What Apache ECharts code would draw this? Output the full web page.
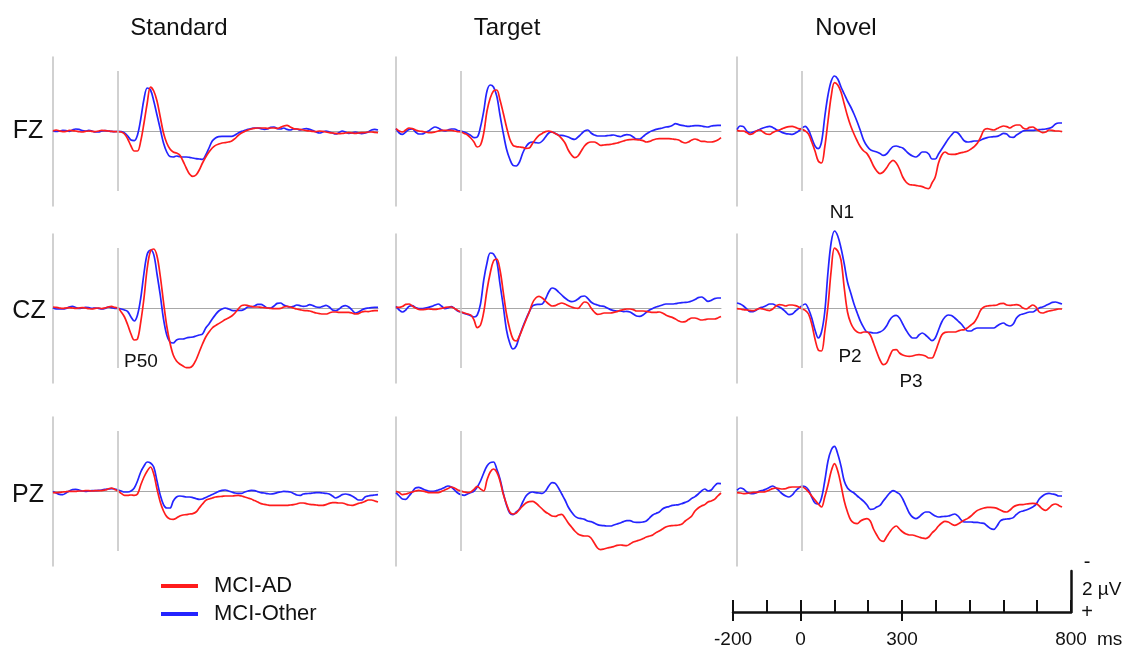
<!DOCTYPE html>
<html>
<head>
<meta charset="utf-8">
<script src="https://cdn.jsdelivr.net/npm/echarts@6/dist/echarts.min.js"></script>
<style>
  html, body { margin: 0; background: #fff; }
  #chart { width: 1133px; height: 649px; }
</style>
</head>
<body>
<div id="chart"></div>
<script>
// sampling grid: -200 .. 800 ms every 10 ms
const times = []
for (let t = -200; t <= 800; t += 10) times.push(t)

const conditions = ['Standard', 'Target', 'Novel']
const electrodes = ['FZ', 'CZ', 'PZ']
const groups = ['MCI-AD', 'MCI-Other']
const scaleTicks = [-200, 0, 300, 800]

// amplitudes in µV (negative plotted up), rows of 10 samples from -200 ms
const fzStdAD = [
  0.0, -0.05, 0.0, 0.03, 0.02, -0.03, -0.02, 0.0, 0.03, 0.05,
  0.02, 0.0, 0.02, 0.03, 0.0, -0.03, -0.02, 0.0, 0.02, 0.03,
  0.03, 0.05, 0.15, 0.4, 0.75, 1.0, 1.0, 0.5, -0.4, -1.4,
  -2.2, -2.0, -1.5, -0.7, 0.1, 0.6, 0.9, 1.05, 1.1, 1.2,
  1.5, 1.85, 2.15, 2.27, 2.2, 1.95, 1.6, 1.3, 1.05, 0.85,
  0.72, 0.65, 0.6, 0.58, 0.55, 0.5, 0.38, 0.22, 0.1, 0.02,
  -0.05, -0.1, -0.13, -0.15, -0.15, -0.15, -0.13, -0.15, -0.15, -0.13,
  -0.18, -0.25, -0.28, -0.2, -0.12, -0.1, -0.08, -0.05, -0.02, 0.0,
  0.02, 0.03, 0.0, 0.02, 0.05, 0.08, 0.1, 0.12, 0.13, 0.12,
  0.1, 0.08, 0.1, 0.12, 0.1, 0.08, 0.08, 0.05, 0.05, 0.07,
  0.08
]
const fzStdOther = [
  -0.02, 0.02, 0.0, -0.03, -0.02, 0.02, -0.05, -0.1, -0.08, -0.02,
  0.0, -0.03, 0.0, 0.05, 0.05, 0.0, -0.02, 0.0, 0.02, 0.03,
  0.02, 0.03, 0.1, 0.25, 0.45, 0.48, 0.2, -0.6, -1.6, -2.15,
  -2.05, -1.5, -0.8, -0.1, 0.6, 1.05, 1.28, 1.3, 1.25, 1.28,
  1.3, 1.3, 1.32, 1.35, 1.38, 1.4, 1.42, 1.2, 0.85, 0.5,
  0.35, 0.28, 0.27, 0.27, 0.27, 0.27, 0.2, 0.1, 0.02, -0.03,
  -0.08, -0.12, -0.15, -0.15, -0.12, -0.08, -0.1, -0.18, -0.2, -0.12,
  -0.1, -0.15, -0.08, -0.05, -0.1, -0.1, -0.05, -0.1, -0.12, -0.08,
  -0.02, 0.05, 0.1, 0.05, 0.0, 0.05, 0.1, 0.15, 0.08, 0.0,
  0.05, 0.12, 0.1, 0.05, 0.1, 0.13, 0.1, 0.05, -0.05, -0.08,
  -0.05
]
const fzTgtAD = [
  -0.12, 0.0, 0.05, -0.05, -0.15, -0.12, -0.05, 0.0, 0.02, 0.05,
  0.08, 0.08, 0.05, 0.0, -0.03, -0.03, -0.03, -0.03, 0.0, 0.03,
  0.05, 0.12, 0.2, 0.35, 0.55, 0.8, 0.7, 0.1, -1.0, -1.65,
  -2.0, -2.05, -1.55, -0.9, -0.2, 0.4, 0.72, 0.78, 0.8, 0.82,
  0.87, 0.85, 0.62, 0.4, 0.22, 0.12, 0.03, 0.0, 0.05, 0.12,
  0.22, 0.38, 0.6, 0.95, 1.2, 1.33, 1.25, 1.0, 0.75, 0.6,
  0.55, 0.55, 0.62, 0.72, 0.7, 0.68, 0.67, 0.63, 0.6, 0.55,
  0.5, 0.45, 0.43, 0.42, 0.43, 0.45, 0.48, 0.55, 0.52, 0.45,
  0.4, 0.38, 0.38, 0.38, 0.38, 0.4, 0.42, 0.45, 0.55, 0.6,
  0.55, 0.45, 0.4, 0.45, 0.52, 0.52, 0.55, 0.55, 0.52, 0.45,
  0.33
]
const fzTgtOther = [
  -0.12, 0.1, 0.17, 0.05, -0.08, -0.1, 0.05, 0.15, 0.15, 0.08,
  0.0, -0.12, -0.2, -0.15, -0.05, 0.0, -0.05, -0.1, -0.1, -0.02,
  0.0, 0.05, 0.12, 0.22, 0.33, 0.3, -0.2, -1.0, -2.0, -2.3,
  -2.2, -1.75, -0.8, 0.1, 0.9, 1.4, 1.72, 1.75, 1.55, 1.1,
  0.78, 0.6, 0.55, 0.58, 0.6, 0.5, 0.3, 0.1, 0.05, 0.12,
  0.2, 0.22, 0.25, 0.3, 0.38, 0.42, 0.3, 0.15, 0.0, -0.05,
  0.1, 0.2, 0.25, 0.25, 0.25, 0.23, 0.22, 0.2, 0.25, 0.28,
  0.22, 0.18, 0.2, 0.3, 0.4, 0.4, 0.28, 0.15, 0.05, -0.02,
  -0.08, -0.12, -0.15, -0.2, -0.22, -0.28, -0.37, -0.32, -0.28, -0.25,
  -0.23, -0.25, -0.27, -0.27, -0.25, -0.22, -0.2, -0.25, -0.27, -0.28,
  -0.28
]
const fzNovAD = [
  -0.03, 0.0, 0.0, 0.08, 0.17, 0.12, 0.0, -0.05, 0.05, 0.15,
  0.17, 0.08, 0.0, -0.05, -0.12, -0.18, -0.22, -0.23, -0.18, -0.12,
  -0.08, 0.0, 0.15, 0.55, 1.0, 1.5, 1.6, 0.8, -0.5, -1.75,
  -2.42, -2.3, -1.95, -1.35, -0.75, -0.25, 0.15, 0.5, 0.8, 1.0,
  1.13, 1.4, 1.75, 2.0, 2.13, 2.05, 1.85, 1.6, 1.47, 1.6,
  1.9, 2.3, 2.55, 2.67, 2.7, 2.72, 2.75, 2.78, 2.85, 2.88,
  2.6, 2.3, 1.6, 1.2, 1.05, 1.15, 1.17, 1.17, 1.13, 1.08,
  1.05, 1.0, 0.9, 0.78, 0.6, 0.3, -0.05, -0.12, -0.08, -0.05,
  -0.12, -0.2, -0.25, -0.22, -0.15, -0.25, -0.3, -0.3, -0.15, -0.1,
  -0.18, -0.2, -0.1, 0.0, 0.08, 0.05, -0.05, -0.03, 0.0, 0.0,
  0.03
]
const fzNovOther = [
  -0.07, -0.25, -0.22, 0.0, 0.1, 0.05, 0.0, -0.08, -0.15, -0.2,
  -0.23, -0.18, -0.08, 0.0, 0.08, 0.13, 0.15, 0.17, 0.1, 0.0,
  -0.15, -0.23, -0.05, 0.35, 0.75, 0.88, 0.55, -0.7, -1.8, -2.5,
  -2.75, -2.6, -2.2, -1.85, -1.5, -1.2, -0.85, -0.45, 0.0, 0.47,
  0.75, 0.93, 1.0, 1.05, 1.12, 1.22, 1.15, 0.95, 0.78, 0.75,
  0.8, 0.85, 1.0, 1.15, 1.25, 1.3, 1.2, 1.05, 1.05, 1.15,
  1.4, 1.4, 1.15, 0.9, 0.65, 0.4, 0.2, 0.05, 0.1, 0.3,
  0.5, 0.55, 0.53, 0.5, 0.5, 0.45, 0.38, 0.33, 0.3, 0.28,
  0.27, 0.2, 0.12, 0.15, 0.3, 0.32, 0.2, 0.1, 0.0, -0.03,
  -0.03, -0.03, -0.05, -0.07, -0.08, -0.1, -0.13, -0.2, -0.35, -0.4,
  -0.4
]
const czStdAD = [
  -0.05, -0.03, 0.0, 0.02, 0.0, -0.02, 0.0, 0.02, 0.0, -0.02,
  0.0, 0.03, 0.05, 0.02, 0.0, 0.03, 0.0, -0.05, -0.08, -0.03,
  0.0, 0.2, 0.45, 0.85, 1.3, 1.6, 1.55, 0.7, -0.5, -2.0,
  -2.85, -2.95, -2.6, -1.6, -0.3, 0.9, 1.75, 2.35, 2.65, 2.8,
  2.9, 2.98, 2.98, 2.88, 2.6, 2.2, 1.8, 1.45, 1.2, 1.0,
  0.88, 0.78, 0.68, 0.58, 0.5, 0.4, 0.25, 0.05, -0.12, -0.15,
  -0.12, -0.08, -0.05, -0.05, -0.03, -0.02, 0.0, 0.02, 0.03, 0.03,
  0.02, -0.05, -0.08, -0.05, 0.0, 0.05, 0.08, 0.12, 0.13, 0.15,
  0.2, 0.25, 0.28, 0.3, 0.3, 0.25, 0.2, 0.2, 0.22, 0.22,
  0.22, 0.22, 0.25, 0.3, 0.28, 0.2, 0.17, 0.18, 0.15, 0.13,
  0.13
]
const czStdOther = [
  -0.02, 0.05, 0.05, 0.05, 0.02, -0.05, -0.08, -0.02, 0.02, 0.0,
  -0.03, -0.02, 0.02, 0.0, 0.02, 0.05, 0.02, -0.05, -0.02, 0.02,
  0.02, 0.05, 0.1, 0.18, 0.45, 0.65, 0.35, -0.5, -1.75, -2.7,
  -2.9, -2.67, -1.7, -0.65, 0.55, 1.35, 1.7, 1.75, 1.6, 1.55,
  1.55, 1.5, 1.47, 1.45, 1.4, 1.35, 1.3, 1.0, 0.8, 0.55,
  0.33, 0.15, 0.05, 0.0, 0.05, 0.12, 0.13, 0.12, 0.12, 0.05,
  -0.05, -0.05, -0.1, -0.18, -0.18, -0.1, 0.0, 0.0, -0.1, -0.23,
  -0.25, -0.15, -0.08, -0.05, -0.08, -0.15, -0.12, -0.08, -0.1, -0.17,
  -0.12, -0.05, -0.03, -0.08, -0.13, -0.05, 0.1, 0.13, 0.05, -0.08,
  -0.12, -0.05, 0.1, 0.25, 0.2, 0.1, 0.03, 0.0, -0.02, -0.03,
  -0.03
]
const czTgtAD = [
  -0.03, -0.03, -0.08, -0.18, -0.2, -0.1, 0.0, 0.07, 0.08, 0.07,
  0.05, 0.06, 0.07, 0.05, 0.02, -0.02, -0.05, -0.05, 0.02, 0.12,
  0.2, 0.25, 0.3, 0.35, 0.6, 0.98, 0.85, 0.2, -0.9, -1.75,
  -2.35, -2.45, -1.9, -0.8, 0.3, 1.05, 1.55, 1.65, 1.4, 1.0,
  0.6, 0.2, -0.25, -0.5, -0.58, -0.5, -0.35, -0.2, -0.1, -0.12,
  -0.2, -0.25, -0.2, -0.12, -0.05, 0.0, 0.02, -0.15, -0.3, -0.25,
  0.0, 0.2, 0.32, 0.3, 0.25, 0.25, 0.25, 0.22, 0.18, 0.12,
  0.08, 0.05, 0.05, 0.08, 0.15, 0.15, 0.15, 0.17, 0.2, 0.22,
  0.22, 0.2, 0.25, 0.35, 0.42, 0.47, 0.55, 0.65, 0.7, 0.68,
  0.58, 0.5, 0.5, 0.55, 0.6, 0.58, 0.55, 0.55, 0.55, 0.5,
  0.43
]
const czTgtOther = [
  -0.08, 0.1, 0.2, 0.1, -0.08, -0.12, -0.03, 0.03, 0.03, 0.0,
  -0.03, -0.08, -0.15, -0.2, -0.1, 0.03, 0.0, -0.07, 0.02, 0.15,
  0.2, 0.27, 0.32, 0.38, 0.45, 0.35, -0.2, -1.4, -2.25, -2.75,
  -2.7, -2.35, -1.2, -0.1, 1.1, 1.75, 2.05, 1.9, 1.4, 0.95,
  0.55, 0.2, -0.1, -0.17, -0.18, -0.2, -0.45, -0.8, -1.0, -0.95,
  -0.8, -0.65, -0.5, -0.38, -0.32, -0.35, -0.45, -0.57, -0.6, -0.48,
  -0.3, -0.2, -0.15, -0.1, -0.08, 0.0, 0.08, 0.13, 0.15, 0.15,
  0.18, 0.17, 0.2, 0.3, 0.4, 0.42, 0.35, 0.22, 0.1, 0.02,
  -0.05, -0.1, -0.15, -0.2, -0.2, -0.2, -0.22, -0.25, -0.27, -0.28,
  -0.3, -0.35, -0.42, -0.52, -0.55, -0.45, -0.33, -0.38, -0.47, -0.5,
  -0.5
]
const czNovAD = [
  0.03, 0.05, 0.08, 0.1, 0.12, 0.13, 0.08, 0.02, 0.05, 0.1,
  0.13, 0.05, -0.1, -0.17, -0.15, -0.1, -0.15, -0.15, -0.12, -0.05,
  0.05, 0.12, 0.3, 0.8, 1.55, 2.1, 2.15, 1.2, -0.1, -1.9,
  -3.0, -2.85, -2.4, -1.0, 0.2, 0.75, 1.05, 1.2, 1.25, 1.2,
  1.2, 1.35, 1.75, 2.2, 2.6, 2.83, 2.75, 2.4, 2.1, 2.08,
  2.25, 2.35, 2.4, 2.42, 2.4, 2.35, 2.33, 2.35, 2.4, 2.5,
  2.5, 2.2, 1.75, 1.35, 1.22, 1.2, 1.2, 1.2, 1.15, 1.1,
  1.08, 0.98, 0.85, 0.72, 0.45, 0.1, -0.05, -0.1, -0.12, -0.13,
  -0.15, -0.22, -0.23, -0.15, -0.13, -0.15, -0.17, -0.12, 0.0, 0.05,
  -0.05, -0.15, -0.05, 0.2, 0.25, 0.2, 0.15, 0.12, 0.08, 0.05,
  0.05
]
const czNovOther = [
  -0.25, -0.2, -0.1, 0.05, 0.18, 0.18, 0.1, 0.0, -0.05, -0.12,
  -0.2, -0.2, -0.12, -0.05, 0.05, 0.2, 0.33, 0.3, 0.15, 0.02,
  -0.12, -0.2, 0.05, 0.5, 1.1, 1.5, 1.2, 0.2, -1.8, -3.3,
  -3.85, -3.6, -3.0, -2.2, -1.3, -0.75, -0.2, 0.25, 0.67, 0.98,
  1.2, 1.22, 1.25, 1.25, 1.2, 1.1, 0.9, 0.6, 0.42, 0.37,
  0.5, 0.8, 1.1, 1.35, 1.5, 1.5, 1.35, 1.25, 1.35, 1.5,
  1.63, 1.5, 1.1, 0.7, 0.45, 0.35, 0.38, 0.5, 0.65, 0.8,
  1.0, 1.15, 1.15, 1.05, 1.0, 1.0, 1.0, 1.0, 1.0, 1.0,
  0.9, 0.8, 0.75, 0.85, 0.9, 0.8, 0.5, 0.35, 0.3, 0.25,
  0.2, 0.2, 0.1, 0.0, -0.05, -0.12, -0.2, -0.28, -0.3, -0.25,
  -0.2
]
const pzStdAD = [
  0.08, 0.08, 0.07, 0.05, 0.03, 0.02, 0.02, 0.02, 0.0, 0.0,
  -0.02, -0.02, 0.0, -0.02, -0.02, -0.02, -0.05, -0.1, -0.15, -0.08,
  0.0, 0.12, 0.22, 0.22, 0.2, 0.22, 0.15, -0.3, -0.7, -1.0,
  -1.2, -0.85, -0.1, 0.55, 1.0, 1.28, 1.4, 1.42, 1.35, 1.25,
  1.2, 1.18, 1.15, 1.13, 1.05, 0.85, 0.65, 0.47, 0.4, 0.35,
  0.3, 0.28, 0.27, 0.25, 0.25, 0.25, 0.23, 0.22, 0.25, 0.3,
  0.35, 0.4, 0.48, 0.55, 0.63, 0.67, 0.7, 0.72, 0.72, 0.72,
  0.72, 0.72, 0.72, 0.7, 0.68, 0.65, 0.6, 0.6, 0.63, 0.67,
  0.68, 0.7, 0.72, 0.72, 0.68, 0.62, 0.58, 0.58, 0.6, 0.6,
  0.65, 0.7, 0.72, 0.68, 0.62, 0.58, 0.52, 0.45, 0.45, 0.5,
  0.55
]
const pzStdOther = [
  0.02, 0.1, 0.17, 0.18, 0.1, 0.0, -0.07, -0.08, -0.05, 0.0,
  0.02, 0.0, -0.02, -0.02, -0.03, -0.05, -0.08, -0.1, -0.12, -0.1,
  -0.05, 0.0, 0.05, 0.05, 0.0, -0.15, -0.5, -0.95, -1.25, -1.45,
  -1.4, -1.2, -0.5, 0.2, 0.68, 0.85, 0.85, 0.5, 0.3, 0.25,
  0.27, 0.3, 0.3, 0.33, 0.38, 0.42, 0.4, 0.32, 0.25, 0.17,
  0.1, 0.02, -0.03, -0.05, 0.0, 0.05, 0.1, 0.12, 0.12, 0.05,
  0.0, -0.03, -0.02, 0.03, 0.08, 0.1, 0.13, 0.15, 0.13, 0.08,
  0.05, 0.02, 0.03, 0.05, 0.12, 0.2, 0.22, 0.15, 0.13, 0.12,
  0.1, 0.08, 0.08, 0.1, 0.12, 0.15, 0.25, 0.35, 0.28, 0.18,
  0.15, 0.18, 0.25, 0.35, 0.45, 0.45, 0.3, 0.25, 0.22, 0.2,
  0.18
]
const pzTgtAD = [
  0.02, 0.08, 0.18, 0.15, 0.1, 0.05, 0.0, -0.03, 0.0, 0.03,
  0.08, 0.08, 0.08, 0.08, 0.02, -0.05, -0.12, -0.2, -0.15, -0.05,
  0.0, 0.05, 0.08, 0.05, -0.08, -0.23, -0.1, 0.0, -0.55, -0.95,
  -1.1, -0.95, -0.5, 0.15, 0.65, 1.05, 1.15, 1.1, 0.92, 0.75,
  0.6, 0.53, 0.52, 0.6, 0.75, 0.9, 1.05, 1.15, 1.25, 1.27,
  1.2, 1.17, 1.35, 1.6, 1.8, 2.0, 2.15, 2.22, 2.25, 2.25,
  2.35, 2.6, 2.85, 2.93, 2.9, 2.85, 2.82, 2.78, 2.72, 2.7,
  2.72, 2.73, 2.65, 2.55, 2.5, 2.45, 2.38, 2.3, 2.25, 2.2,
  2.08, 2.0, 1.9, 1.8, 1.75, 1.73, 1.72, 1.7, 1.65, 1.5,
  1.38, 1.25, 1.0, 0.85, 0.75, 0.68, 0.55, 0.5, 0.42, 0.25,
  0.1
]
const pzTgtOther = [
  0.08, 0.25, 0.4, 0.42, 0.25, 0.05, -0.15, -0.18, -0.12, -0.05,
  0.0, 0.02, 0.0, -0.05, -0.1, -0.18, -0.25, -0.2, -0.05, 0.1,
  0.18, 0.22, 0.15, 0.08, 0.0, -0.2, -0.5, -0.9, -1.25, -1.42,
  -1.45, -1.1, -0.6, 0.1, 0.7, 1.1, 1.18, 1.05, 0.9, 0.55,
  0.25, 0.1, 0.05, 0.08, 0.1, 0.12, 0.0, -0.25, -0.42, -0.38,
  -0.15, 0.15, 0.45, 0.8, 1.05, 1.25, 1.35, 1.38, 1.42, 1.5,
  1.53, 1.6, 1.68, 1.72, 1.73, 1.75, 1.75, 1.7, 1.65, 1.6,
  1.53, 1.48, 1.48, 1.55, 1.57, 1.57, 1.55, 1.5, 1.35, 1.2,
  1.12, 1.05, 0.9, 0.82, 0.78, 0.72, 0.7, 0.68, 0.63, 0.57,
  0.5, 0.37, 0.28, 0.15, 0.0, -0.1, 0.0, -0.05, -0.25, -0.38,
  -0.37
]
const pzNovAD = [
  0.08, 0.1, 0.13, 0.12, 0.1, 0.07, 0.07, 0.05, 0.05, 0.02,
  -0.05, -0.12, -0.15, -0.12, -0.1, -0.12, -0.18, -0.2, -0.2, -0.2,
  -0.2, -0.12, 0.05, 0.25, 0.45, 0.65, 0.8, 0.3, -0.3, -1.0,
  -1.37, -1.0, -0.3, 0.5, 1.05, 1.45, 1.6, 1.63, 1.5, 1.42,
  1.38, 1.5, 1.9, 2.2, 2.45, 2.52, 2.3, 2.05, 1.85, 1.75,
  1.9, 2.05, 2.15, 2.2, 2.2, 2.25, 2.3, 2.35, 2.38, 2.3,
  2.1, 1.95, 1.75, 1.6, 1.52, 1.55, 1.65, 1.72, 1.65, 1.55,
  1.45, 1.37, 1.25, 1.1, 0.97, 0.9, 0.85, 0.82, 0.82, 0.83,
  0.87, 0.95, 1.03, 1.05, 0.95, 0.8, 0.72, 0.68, 0.68, 0.65,
  0.63, 0.62, 0.63, 0.75, 0.9, 0.97, 0.85, 0.7, 0.65, 0.72,
  0.8
]
const pzNovOther = [
  -0.03, -0.15, -0.1, 0.05, 0.12, 0.13, 0.08, 0.0, -0.03, -0.1,
  -0.18, -0.25, -0.15, 0.0, 0.15, 0.25, 0.3, 0.2, 0.0, -0.15,
  -0.25, -0.22, -0.05, 0.3, 0.6, 0.65, 0.35, -0.5, -1.5, -2.05,
  -2.23, -1.85, -1.25, -0.5, -0.15, 0.0, 0.1, 0.25, 0.38, 0.52,
  0.7, 0.92, 0.9, 0.8, 0.72, 0.5, 0.3, 0.1, -0.02, 0.05,
  0.15, 0.4, 0.75, 1.1, 1.3, 1.38, 1.3, 1.15, 1.05, 1.05,
  1.15, 1.25, 1.3, 1.28, 1.27, 1.25, 1.2, 1.15, 1.25, 1.45,
  1.55, 1.55, 1.55, 1.57, 1.57, 1.6, 1.62, 1.75, 1.88, 1.92,
  1.75, 1.5, 1.42, 1.4, 1.38, 1.33, 1.17, 1.05, 1.0, 0.95,
  0.88, 0.8, 0.67, 0.4, 0.25, 0.15, 0.12, 0.15, 0.18, 0.25,
  0.25
]

// [electrode][condition] -> [MCI-AD, MCI-Other]
const waves = [
  [[fzStdAD, fzStdOther], [fzTgtAD, fzTgtOther], [fzNovAD, fzNovOther]],
  [[czStdAD, czStdOther], [czTgtAD, czTgtOther], [czNovAD, czNovOther]],
  [[pzStdAD, pzStdOther], [pzTgtAD, pzTgtOther], [pzNovAD, pzNovOther]]
]

const FONT = "'Liberation Sans', Arial, Helvetica, sans-serif"
const RED = '#ff1c1c'
const BLUE = '#2424ff'
const GRAY = '#c2c2c2'
const colLeft = [53, 396, 737]
const rowZero = [131, 308, 491]
const PX_UV = 20
const Y_MIN = -3.7
const Y_MAX = 3.75

const grid = []
const xAxis = []
const yAxis = []
const series = []

const hidden = { axisLine: { show: false }, axisTick: { show: false }, axisLabel: { show: false }, splitLine: { show: false } }

electrodes.forEach((el, r) => {
  conditions.forEach((cond, c) => {
    const g = grid.length
    grid.push({
      left: colLeft[c],
      top: rowZero[r] + Y_MIN * PX_UV,
      width: 325,
      height: (Y_MAX - Y_MIN) * PX_UV
    })
    xAxis.push({
      gridIndex: g, type: 'value', min: -200, max: 800,
      axisLine: { onZero: true, lineStyle: { color: '#a8a8a8', width: 1 } },
      axisTick: { show: false }, axisLabel: { show: false }, splitLine: { show: false }
    })
    yAxis.push({
      gridIndex: g, type: 'value', inverse: true, min: Y_MIN, max: Y_MAX,
      axisLine: { show: true, onZero: false, lineStyle: { color: GRAY, width: 1.5 } },
      axisTick: { show: false }, axisLabel: { show: false }, splitLine: { show: false }
    })
    // blue first so red lies on top
    ;[1, 0].forEach(k => {
      const s = {
        name: groups[k],
        type: 'line',
        xAxisIndex: g,
        yAxisIndex: g,
        data: times.map((t, i) => [t, waves[r][c][k][i]]),
        showSymbol: false,
        smooth: 0.35,
        clip: false,
        color: k === 0 ? RED : BLUE,
        lineStyle: { width: 1.7 },
        silent: true
      }
      if (k === 1) {
        s.markLine = {
          silent: true, symbol: 'none', label: { show: false },
          lineStyle: { color: GRAY, width: 1.5, type: 'solid' },
          data: [[{ coord: [0, -3] }, { coord: [0, 3] }]]
        }
      }
      series.push(s)
    })
  })
})

// time / amplitude scale bar: two overlapping grids so both time axes sit at the bottom
const barBox = { left: 733, top: 571, width: 338, height: 41 }
const sg = grid.length
grid.push(Object.assign({}, barBox))
grid.push(Object.assign({}, barBox))
xAxis.push({
  gridIndex: sg, type: 'value', position: 'bottom', min: -200, max: 800, interval: 100,
  axisLine: { onZero: false, lineStyle: { color: '#111', width: 2.5 } },
  axisTick: { inside: true, length: 12, lineStyle: { color: '#111', width: 2 } },
  axisLabel: { show: false }, splitLine: { show: false }
})
yAxis.push({
  gridIndex: sg, type: 'value', min: 0, max: 2, position: 'right',
  axisLine: { show: true, onZero: false, lineStyle: { color: '#111', width: 2.5 } },
  axisTick: { show: false }, axisLabel: { show: false }, splitLine: { show: false }
})
xAxis.push({
  gridIndex: sg + 1, type: 'value', position: 'bottom', min: -200, max: 800, interval: 100,
  axisLine: { show: true, onZero: false, lineStyle: { color: 'rgba(0,0,0,0)' } },
  axisTick: { show: true, customValues: [-200, 0, 300], length: 9, lineStyle: { color: '#111', width: 2 } },
  axisLabel: {
    customValues: scaleTicks, margin: 18, fontSize: 19, fontFamily: FONT, color: '#111',
    formatter: v => (scaleTicks.includes(v) ? String(v) : '')
  },
  splitLine: { show: false }
})
yAxis.push(Object.assign({ gridIndex: sg + 1, type: 'value', min: 0, max: 2 }, hidden))

function label(text, x, y, size, align) {
  return {
    type: 'text', x, y, silent: true,
    style: {
      text, fontSize: size, fontFamily: FONT, fill: '#111',
      align: align || 'center', verticalAlign: 'middle'
    }
  }
}

const graphic = [
  label(conditions[0], 179, 28, 24),
  label(conditions[1], 507, 28, 24),
  label(conditions[2], 846, 28, 24),
  label(electrodes[0], 28, 131, 25),
  label(electrodes[1], 29, 311, 25),
  label(electrodes[2], 28, 495, 25),
  label('N1', 842, 213, 19),
  label('P2', 850, 357, 19),
  label('P3', 911, 382, 19),
  label('P50', 141, 362, 19),
  label('-', 1087, 562, 20),
  label('2 µV', 1082, 590, 19, 'left'),
  label('+', 1087, 612, 20),
  label('ms', 1097, 640, 19, 'left')
]

const chart = echarts.init(document.getElementById('chart'), null, { renderer: 'canvas' })
chart.setOption({
  animation: false,
  backgroundColor: '#fff',
  legend: {
    data: groups,
    orient: 'vertical',
    left: 156,
    top: 570,
    icon: 'rect',
    itemWidth: 37,
    itemHeight: 4,
    itemGap: 6,
    textStyle: { fontSize: 22, fontFamily: FONT, color: '#111', padding: [0, 0, 0, 11] }
  },
  grid,
  xAxis,
  yAxis,
  series,
  graphic
})
</script>
</body>
</html>
